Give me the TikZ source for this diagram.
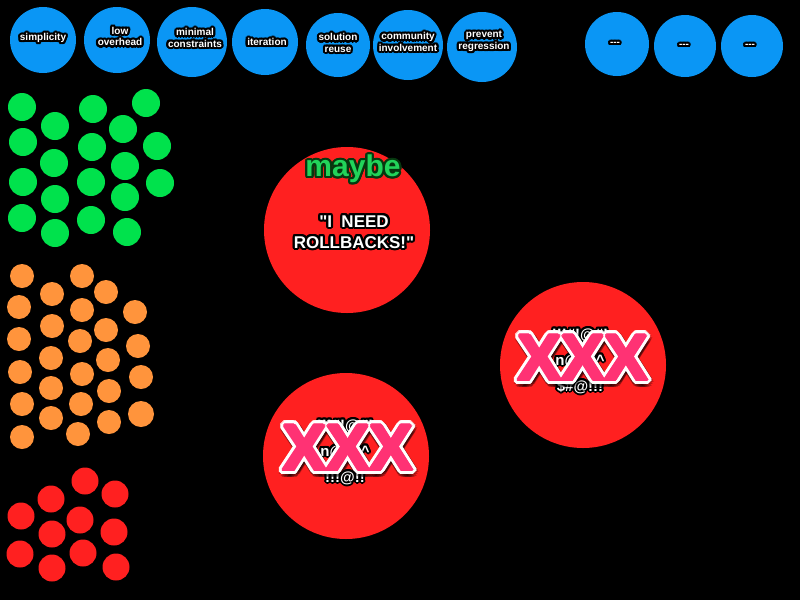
\documentclass[tikz,border=0pt]{standalone}
\usepackage{fontspec}
\setmainfont{Liberation Sans}
\definecolor{bubbleblue}{HTML}{0A96F5}
\definecolor{dotgreen}{HTML}{00E24C}
\definecolor{dotorange}{HTML}{FF943C}
\definecolor{dotred}{HTML}{FF2020}
\definecolor{maybegreen}{HTML}{22D45A}
\definecolor{maybeedge}{HTML}{06380F}
\definecolor{xpink}{HTML}{FF3274}
% straight double quote, kept clear of the TeX ligature mapping
\newcommand{\sq}{\XeTeXglyph\XeTeXcharglyph"22\relax}
% text with a halo: options, position, halo colour, halo radius, text colour, text, name
\newcommand{\halolabel}[7]{%
  \foreach \ang in {0,22.5,...,337.5}{%
    \node[labeltext,#1,text=#3,shift={(\ang:#4)}] at (#2) {#6};
    \node[labeltext,#1,text=#3,shift={(\ang:0.6*#4)}] at (#2) {#6};
    \node[labeltext,#1,text=#3,shift={(\ang:0.3*#4)}] at (#2) {#6};}%
  \node[labeltext,#1,text=#5] (#7) at (#2) {#6};}
% heavy pink mark with a white rim and a soft shadow: position, name
\newcommand{\strikemark}[2]{%
  \foreach \ang in {0,22.5,...,337.5}{%
    \node[labeltext,xmark,text=black,opacity=0.25,shift={(\ang:5.5pt)},xshift=1pt,yshift=-2pt] at (#1) {XXX};}%
  \foreach \ang in {0,15,...,345}{%
    \node[labeltext,xmark,text=white,shift={(\ang:4.6pt)}] at (#1) {XXX};
    \node[labeltext,xmark,text=white,shift={(\ang:3pt)}] at (#1) {XXX};}%
  \foreach \ang in {0,30,...,330}{%
    \node[labeltext,xmark,text=xpink,shift={(\ang:1.5pt)}] at (#1) {XXX};}%
  \node[labeltext,xmark,text=xpink] (#2) at (#1) {XXX};}
\begin{document}
\begin{tikzpicture}[x=1pt,y=-1pt,
  labeltext/.style={inner sep=0pt,align=center,font=\bfseries},
  toplabel/.style={font=\bfseries\fontsize{10}{11.5}\selectfont},
  xmark/.style={font=\bfseries\fontsize{65}{65}\selectfont},
  bigbubble/.style={circle,inner sep=0pt,fill=dotred,minimum size=166pt},
  topbubble/.style={circle,inner sep=0pt,fill=bubbleblue,minimum size=#1},
  gdot/.style={circle,inner sep=0pt,fill=dotgreen,minimum size=28pt},
  odot/.style={circle,inner sep=0pt,fill=dotorange,minimum size=#1},
  rdot/.style={circle,inner sep=0pt,fill=dotred,minimum size=27pt},
  odot/.default=24pt]
\fill[black] (0,0) rectangle (800,600);
\useasboundingbox (0,0) rectangle (800,600);

% top row of value bubbles
\foreach \n/\x/\y/\r in {b1/43/40/33, b2/117/40/33, b3/192/42/35, b4/265/42/33,
    b5/338/45/32, b6/408/45/35, b7/482/47/35, b8/617/44/32, b9/685/46/31, b10/752/46/31}
  \node[topbubble=2*\r pt] (\n) at (\x,\y) {};

\halolabel{toplabel}{43,38}{black}{2.2pt}{white}{simplicity}{t1}
\halolabel{toplabel}{120,36.5}{black}{2.2pt}{white}{low\\overhead}{t2}
\halolabel{toplabel}{195,38}{black}{2.2pt}{white}{minimal\\constraints}{t3}
\halolabel{toplabel}{267,42}{black}{2.2pt}{white}{iteration}{t4}
\halolabel{toplabel}{338,43}{black}{2.2pt}{white}{solution\\reuse}{t5}
\halolabel{toplabel}{408,42}{black}{2.2pt}{white}{community\\involvement}{t6}
\halolabel{toplabel}{484,41.5}{black}{2.2pt}{white}{prevent\\regression}{t7}
\halolabel{toplabel}{615,44}{black}{2.2pt}{white}{-{}-{}-}{t8}
\halolabel{toplabel}{684,46}{black}{2.2pt}{white}{-{}-{}-}{t9}
\halolabel{toplabel}{750,46}{black}{2.2pt}{white}{-{}-{}-}{t10}

% green cluster
\foreach \x/\y [count=\i] in {22/107, 55/126, 23/142, 54/163, 23/182, 55/199, 22/218,
    55/233, 93/109, 123/129, 146/103, 92/147, 125/166, 157/146, 91/182, 125/197,
    160/183, 91/220, 127/232}
  \node[gdot] (g\i) at (\x,\y) {};

% orange cluster
\foreach \x/\y [count=\i] in {22/276, 19/307, 19/339, 20/372, 22/404, 22/437,
    52/294, 52/326, 51/358, 51/388, 51/418, 82/276, 82/310, 80/341, 82/374,
    81/404, 78/434, 106/292, 106/330, 108/360, 109/391, 109/422, 135/312,
    138/346, 141/377}
  \node[odot] (o\i) at (\x,\y) {};
\node[odot=26pt] (o26) at (141,414) {};

% red cluster
\foreach \x/\y [count=\i] in {85/481, 115/494, 51/499, 21/516, 80/520, 114/532,
    52/534, 20/554, 83/553, 116/567, 52/568}
  \node[rdot] (r\i) at (\x,\y) {};

% the three large bubbles
\node[bigbubble] (need) at (347,230) {};
\node[bigbubble] (right) at (583,365) {};
\node[bigbubble] (low) at (346,456) {};

\halolabel{font=\bfseries\fontsize{30}{30}\selectfont}{353,169}{maybeedge}{2.2pt}{maybegreen}{maybe}{maybe}
\halolabel{font=\bfseries\fontsize{17}{21}\selectfont}{354,232}{black}{2.2pt}{white}{\sq I\ \ NEED\\ROLLBACKS!\sq}{needtext}

% struck-out remarks
\halolabel{font=\bfseries\fontsize{15}{26}\selectfont}{580,361}{black}{2pt}{white}{!!!\#!@\#!\\n@\#\$\textasciicircum\\\$\#@!!!}{rtext}
\halolabel{font=\bfseries\fontsize{15}{26}\selectfont}{345,452}{black}{2pt}{white}{!!!\#!@\#!\\n@\#\$\textasciicircum\\!!!@!!}{ltext}

\strikemark{583,358}{rx}
\strikemark{348,448}{lx}
\end{tikzpicture}
\end{document}
